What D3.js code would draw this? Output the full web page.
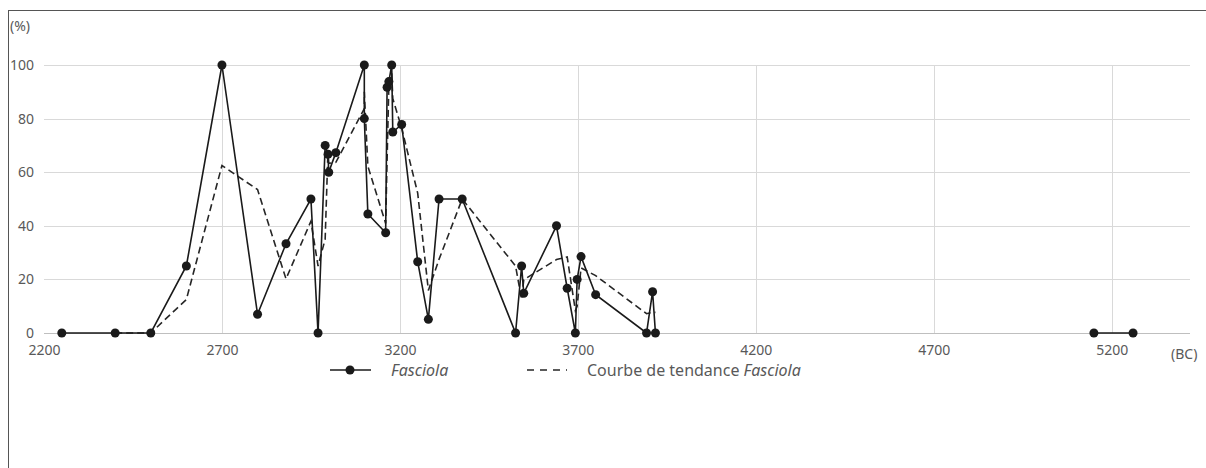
<!DOCTYPE html>
<html>
<head>
<meta charset="utf-8">
<script src="https://cdn.jsdelivr.net/npm/d3@7"></script>
<style>
  body { margin: 0; background: #fff; }
  svg { display: block; font-family: "Noto Sans", sans-serif; }
</style>
</head>
<body>
<div id="chart"></div>
<script>
// Fasciola (%) by date (BC)
var years  = [2250, 2400, 2500, 2600, 2700, 2800, 2880, 2950, 2970, 2990, 2998, 3000, 3020, 3100, 3100, 3110, 3160, 3164, 3169, 3177, 3180, 3205, 3250, 3280, 3310, 3375, 3525, 3542, 3548, 3640, 3670, 3693, 3698, 3709, 3750, 3893, 3910, 3918, 5150, 5260];
var values = [0, 0, 0, 25, 100, 7, 33.3, 50, 0, 70, 66.7, 60, 67.3, 100, 80, 44.4, 37.4, 91.7, 93.8, 100, 75, 77.8, 26.6, 5.1, 50, 50, 0, 25, 14.8, 40, 16.7, 0, 20, 28.5, 14.3, 0, 15.4, 0, 0, 0];
// trend curve (2-period moving average), read per point; null = no value
var trend  = [null, 0, 0, 12.5, 62.5, 53.5, 20.2, 41.7, 25, 35, 68.3, 63.3, 63.7, 83.7, 90, 62.2, 40.9, 64.6, 92.8, 96.9, 87.5, 76.4, 52.2, 15.9, 27.5, 50, 25, 12.5, 19.9, 27.4, 28.4, 8.4, 10, 24.3, 21.4, 7.2, 7.7, 7.7, null, 0];
// the series is interrupted between these two dates
var breakAfter = 3918;
var xTicks = [2200, 2700, 3200, 3700, 4200, 4700, 5200];
var yTicks = [0, 20, 40, 60, 80, 100];

var W = 1206, H = 468;
var textCol = "#595959";

var svg = d3.select("#chart").append("svg").attr("width", W).attr("height", H);

// chart frame
svg.append("rect").attr("x", 8.5).attr("y", 10.5).attr("width", W + 20).attr("height", H + 20)
  .attr("fill", "none").attr("stroke", "#555").attr("stroke-width", 1);

var x = d3.scaleLinear().domain([2200, 5420]).range([44, 1190]);
var y = d3.scaleLinear().domain([0, 100]).range([333, 65]);

// gridlines
svg.append("g").selectAll("line.h").data(yTicks).join("line")
  .attr("x1", x(2200)).attr("x2", x(5420))
  .attr("y1", d => Math.round(y(d)) + 0.5).attr("y2", d => Math.round(y(d)) + 0.5)
  .attr("stroke", d => d === 0 ? "#bfbfbf" : "#d9d9d9").attr("stroke-width", 1);
svg.append("g").selectAll("line.v").data(xTicks.slice(1)).join("line")
  .attr("x1", d => Math.round(x(d)) + 0.5).attr("x2", d => Math.round(x(d)) + 0.5)
  .attr("y1", y(100)).attr("y2", y(0))
  .attr("stroke", "#d9d9d9").attr("stroke-width", 1);

// axes labels
var xAxis = d3.axisBottom(x).tickValues(xTicks).tickFormat(d3.format("d")).tickSize(0).tickPadding(12);
var gx = svg.append("g").attr("transform", "translate(0," + y(0) + ")").call(xAxis);
var yAxis = d3.axisLeft(y).tickValues(yTicks).tickSize(0).tickPadding(10);
var gy = svg.append("g").attr("transform", "translate(" + x(2200) + ",0)").call(yAxis);
[gx, gy].forEach(function (g) {
  g.select(".domain").remove();
  g.selectAll("text").attr("fill", textCol).style("font-size", "14px").style("font-family", "Noto Sans");
});

svg.append("text").attr("x", 10).attr("y", 31).attr("fill", textCol).style("font-size", "14px").text("(%)");
svg.append("text").attr("x", 1171).attr("y", 359).attr("fill", textCol).style("font-size", "14px").text("(BC)");

var pts = years.map((d, i) => ({ x: d, v: values[i], t: trend[i], i: i }));

// trend curve
var trendLine = d3.line()
  .defined(d => d.t !== null)
  .x(d => x(d.x)).y(d => y(d.t));
svg.append("path").datum(pts).attr("d", trendLine)
  .attr("fill", "none").attr("stroke", "#262626").attr("stroke-width", 1.6)
  .attr("stroke-dasharray", "7,4");

// data line, broken after the gap
var seg1 = pts.filter(d => d.x <= breakAfter);
var seg2 = pts.filter(d => d.x > breakAfter);
var line = d3.line().x(d => x(d.x)).y(d => y(d.v));
[seg1, seg2].forEach(function (s) {
  svg.append("path").datum(s).attr("d", line)
    .attr("fill", "none").attr("stroke", "#1a1a1a").attr("stroke-width", 1.6);
});

svg.append("g").selectAll("circle").data(pts).join("circle")
  .attr("cx", d => x(d.x)).attr("cy", d => y(d.v)).attr("r", 4.5)
  .attr("fill", "#1a1a1a");

// legend
var lg = svg.append("g").attr("transform", "translate(0,370)");
lg.append("line").attr("x1", 330).attr("x2", 371).attr("y1", 0).attr("y2", 0)
  .attr("stroke", "#1a1a1a").attr("stroke-width", 1.6);
lg.append("circle").attr("cx", 350).attr("cy", 0).attr("r", 4.5).attr("fill", "#1a1a1a");
lg.append("text").attr("x", 391).attr("y", 6).attr("fill", textCol).style("font-size", "16px")
  .style("font-style", "italic").text("Fasciola");
lg.append("line").attr("x1", 527).attr("x2", 567).attr("y1", 0).attr("y2", 0)
  .attr("stroke", "#262626").attr("stroke-width", 1.6).attr("stroke-dasharray", "7,6");
var t2 = lg.append("text").attr("x", 587).attr("y", 6).attr("fill", textCol).style("font-size", "16px");
t2.append("tspan").text("Courbe de tendance ");
t2.append("tspan").style("font-style", "italic").text("Fasciola");
</script>
</body>
</html>
